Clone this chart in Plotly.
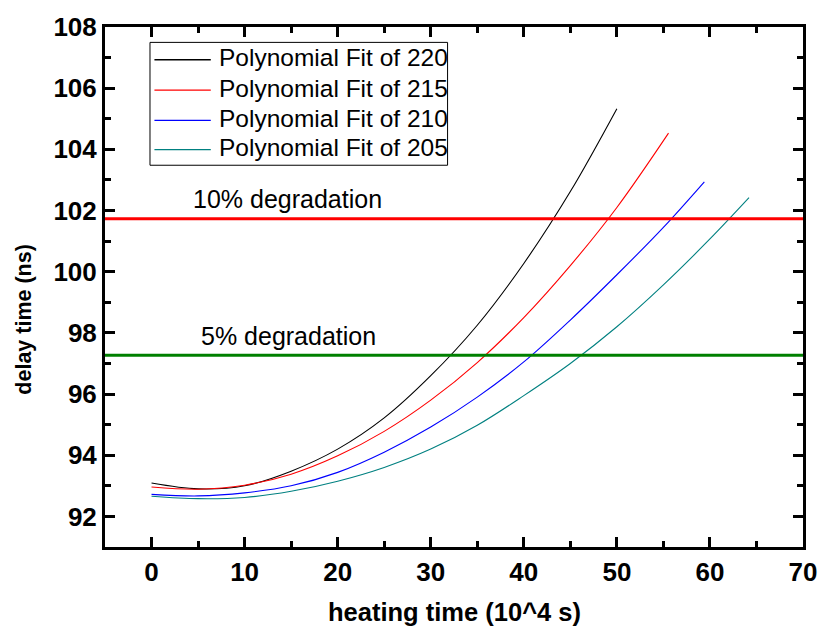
import plotly.graph_objects as go

# ---- data ----
x_220 = [0, 5, 10, 15, 20, 25, 30, 35, 40, 45, 50]
y_220 = [93.09, 92.90, 93.0, 93.48, 94.2, 95.22, 96.6, 98.25, 100.27, 102.62, 105.33]

x_215 = [0, 5, 10, 15, 20, 25, 30, 35, 40, 45, 50, 55.55]
y_215 = [92.96, 92.89, 93.02, 93.38, 93.98, 94.78, 95.8, 97.03, 98.5, 100.2, 102.1, 104.53]

x_210 = [0, 5, 10, 15, 20, 25, 30, 35, 40, 45, 50, 55, 59.4]
y_210 = [92.72, 92.67, 92.77, 93.0, 93.44, 94.1, 94.92, 95.9, 97.05, 98.42, 99.9, 101.45, 102.94]

x_205 = [0, 5, 10, 15, 20, 25, 30, 35, 40, 45, 50, 55, 60, 64.2]
y_205 = [92.66, 92.58, 92.62, 92.82, 93.15, 93.6, 94.2, 94.98, 95.95, 97.0, 98.2, 99.57, 101.07, 102.42]

series_names = ["Polynomial Fit of 220", "Polynomial Fit of 215",
                "Polynomial Fit of 210", "Polynomial Fit of 205"]
series_x = [x_220, x_215, x_210, x_205]
series_y = [y_220, y_215, y_210, y_205]
series_colors = ["#000000", "#ff0000", "#0000ff", "#008080"]

deg10_level = 101.73
deg5_level = 97.27
deg_labels = ["10% degradation", "5% degradation"]
deg_label_x = [14.6, 14.7]
deg_label_y = [102.37, 97.89]

x_range = [-5, 70]
y_range = [91, 108]
x_title = "heating time (10^4 s)"
y_title = "delay time (ns)"

FONT = "Liberation Sans, Arial, sans-serif"

# plot-area geometry (pixels) used to place the hand-made legend and titles
W, H = 829, 634
ML, MR, MT, MB = 105, 18, 23, 87
PW, PH = W - ML - MR, H - MT - MB


def px(xp):
    return (xp - ML) / PW


def py(yp):
    return 1 - (yp - MT) / PH


fig = go.Figure()
for nm, xs, ys, c in zip(series_names, series_x, series_y, series_colors):
    fig.add_trace(go.Scatter(x=xs, y=ys, mode="lines", name=nm, showlegend=False,
                             line=dict(color=c, width=1.1, shape="spline", smoothing=1.0)))

fig.add_hline(y=deg10_level, line=dict(color="#ff0000", width=3), layer="above")
fig.add_hline(y=deg5_level, line=dict(color="#008000", width=3), layer="above")

for t, ax_, ay_ in zip(deg_labels, deg_label_x, deg_label_y):
    fig.add_annotation(x=ax_, y=ay_, text=t, showarrow=False,
                       font=dict(family=FONT, size=25, color="black"),
                       xanchor="center", yanchor="middle")

# legend (box, line samples, labels)
fig.add_shape(type="rect", xref="paper", yref="paper",
              x0=px(150.5), x1=px(451.5), y0=py(162.3), y1=py(38.5),
              line=dict(color="black", width=1), fillcolor="white", layer="above")
row_y = [56, 86.6, 117, 146.5]
for nm, c, ry in zip(series_names, series_colors, row_y):
    fig.add_shape(type="line", xref="paper", yref="paper",
                  x0=px(155), x1=px(212), y0=py(ry), y1=py(ry),
                  line=dict(color=c, width=1.3), layer="above")
    fig.add_annotation(xref="paper", yref="paper", x=px(218), y=py(ry - 2),
                       text=nm, showarrow=False, xanchor="left", yanchor="middle",
                       font=dict(family=FONT, size=24.5, color="black"))

# axis titles
fig.add_annotation(xref="paper", yref="paper", x=0.5, y=py(612),
                   text=x_title, showarrow=False, xanchor="center", yanchor="middle",
                   font=dict(family=FONT, size=25.5, color="black", weight="bold"))
fig.add_annotation(xref="paper", yref="paper", x=px(23), y=py(317),
                   text=y_title, showarrow=False, textangle=-90,
                   xanchor="center", yanchor="middle",
                   font=dict(family=FONT, size=21.5, color="black", weight="bold"))

axis_common = dict(
    showline=True, linecolor="black", linewidth=3, mirror="ticks",
    ticks="inside", ticklen=10, tickwidth=3, tickcolor="black",
    showgrid=False, zeroline=False,
    tickfont=dict(family=FONT, size=26, color="black", weight="bold"),
)

fig.update_xaxes(range=x_range, dtick=10, tick0=0,
                 minor=dict(dtick=5, ticklen=6, tickwidth=3, tickcolor="black", ticks="inside"),
                 **axis_common)
fig.update_yaxes(range=y_range, dtick=2, tick0=92,
                 minor=dict(dtick=1, ticklen=6, tickwidth=3, tickcolor="black", ticks="inside"),
                 **axis_common)

fig.update_layout(
    width=W, height=H,
    margin=dict(l=ML, r=MR, t=MT, b=MB),
    paper_bgcolor="white", plot_bgcolor="white",
    showlegend=False,
)

fig.write_html("out.html")
